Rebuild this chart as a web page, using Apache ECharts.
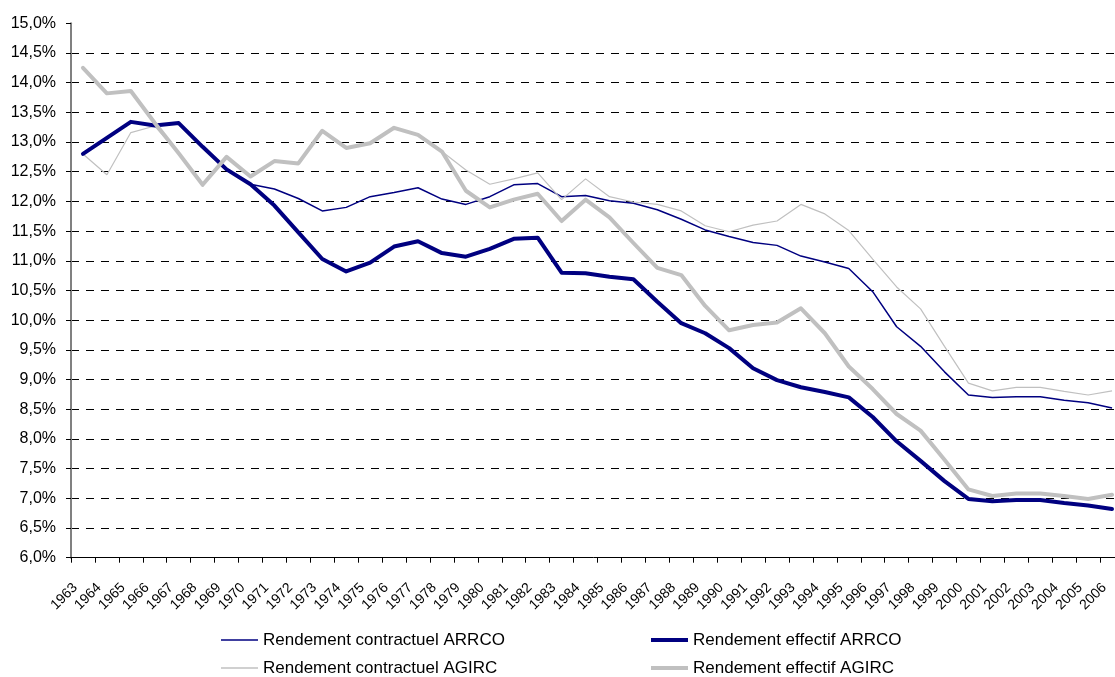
<!DOCTYPE html>
<html>
<head>
<meta charset="utf-8">
<script src="https://cdn.jsdelivr.net/npm/echarts@6/dist/echarts.min.js"></script>
<style>
html,body{margin:0;padding:0;background:#fff;}
#chart{width:1115px;height:677px;}
</style>
</head>
<body>
<div id="chart"></div>
<script>
var years = ['1963','1964','1965','1966','1967','1968','1969','1970','1971','1972','1973','1974','1975','1976','1977',
  '1978','1979','1980','1981','1982','1983','1984','1985','1986','1987','1988','1989','1990','1991',
  '1992','1993','1994','1995','1996','1997','1998','1999','2000','2001','2002','2003','2004','2005','2006'];

var contractuelARRCO = [12.80,13.07,13.34,13.28,13.32,12.92,12.54,12.29,12.21,12.05,11.84,11.90,12.08,12.15,12.23,
  12.04,11.95,12.08,12.28,12.30,12.08,12.10,12.01,11.97,11.86,11.70,11.52,11.41,11.31,
  11.26,11.08,10.98,10.87,10.48,9.89,9.56,9.13,8.74,8.70,8.71,8.71,8.65,8.61,8.52];

var effectifARRCO = [12.80,13.07,13.34,13.28,13.32,12.92,12.54,12.29,11.93,11.48,11.03,10.82,10.97,11.24,11.33,
  11.13,11.07,11.20,11.37,11.39,10.80,10.79,10.73,10.69,10.31,9.95,9.78,9.53,9.19,
  8.99,8.87,8.79,8.70,8.37,7.96,7.63,7.29,6.99,6.95,6.97,6.97,6.92,6.88,6.82];

var contractuelAGIRC = [12.80,12.45,13.16,13.27,12.81,12.28,12.75,12.42,12.68,12.64,13.19,12.90,12.98,13.24,13.12,
  12.84,12.53,12.29,12.38,12.48,12.03,12.38,12.08,11.99,11.95,11.84,11.59,11.49,11.60,
  11.67,11.95,11.79,11.51,11.03,10.56,10.19,9.56,8.94,8.81,8.87,8.87,8.80,8.74,8.81];

var effectifAGIRC = [14.25,13.82,13.86,13.32,12.81,12.28,12.75,12.42,12.68,12.64,13.19,12.90,12.98,13.24,13.12,
  12.84,12.18,11.90,12.03,12.13,11.67,12.03,11.73,11.30,10.88,10.76,10.24,9.83,9.92,
  9.96,10.20,9.78,9.22,8.84,8.42,8.14,7.65,7.15,7.04,7.08,7.08,7.04,6.99,7.06];

var names = ['Rendement contractuel ARRCO','Rendement effectif ARRCO','Rendement contractuel AGIRC','Rendement effectif AGIRC'];

var FONT = "'Liberation Sans', Arial, sans-serif";
var NAVY = '#000080';
var GREY = '#C0C0C0';
var THIN_ICON = 'path://M0,0H37V1.5H0Z';
var THICK_ICON = 'path://M0,0H37V4H0Z';

var gridColors = [];
for (var i = 0; i < 18; i++) gridColors.push('#000');
gridColors.push('rgba(0,0,0,0)');

var legendText = {fontSize: 17, color: '#000', fontFamily: FONT, lineHeight: 18};

var chart = echarts.init(document.getElementById('chart'), null, {renderer: 'canvas'});
chart.setOption({
  animation: false,
  backgroundColor: '#fff',
  textStyle: {fontFamily: FONT},
  grid: {left: 71, right: -9, top: 23.3, bottom: 119.3, containLabel: false, outerBoundsMode: 'none'},
  legend: [
    {
      data: [{name: names[0], icon: THIN_ICON}, {name: names[2], icon: THIN_ICON}],
      orient: 'vertical', left: 221, bottom: 0, padding: [0, 0, 0, 0],
      itemWidth: 37, itemHeight: 18, itemGap: 10,
      textStyle: legendText
    },
    {
      data: [{name: names[1], icon: THICK_ICON}, {name: names[3], icon: THICK_ICON}],
      orient: 'vertical', left: 651, bottom: 0, padding: [0, 0, 0, 0],
      itemWidth: 37, itemHeight: 18, itemGap: 10,
      textStyle: legendText
    }
  ],
  xAxis: {
    type: 'category',
    data: years,
    boundaryGap: true,
    axisLine: {show: true, lineStyle: {color: '#000', width: 1}},
    axisTick: {show: true, length: 5, interval: 0, lineStyle: {color: '#000'}},
    axisLabel: {interval: 0, rotate: 45, fontSize: 14, color: '#000', fontFamily: FONT,
      margin: 20, padding: [0, 11, 0, 0]},
    splitLine: {show: false}
  },
  yAxis: {
    type: 'value',
    min: 6, max: 15, interval: 0.5,
    axisLine: {show: true, lineStyle: {color: '#808080', width: 2}},
    axisTick: {show: true, length: 5, lineStyle: {color: '#000'}},
    axisLabel: {
      fontSize: 16, color: '#000', fontFamily: FONT, margin: 15,
      formatter: function (v) { return v.toFixed(1).replace('.', ',') + '%'; }
    },
    splitLine: {show: true, lineStyle: {color: gridColors, width: 1, type: [8, 7]}}
  },
  series: [
    {name: names[0], type: 'line', data: contractuelARRCO, symbol: 'none', z: 2,
     lineStyle: {color: NAVY, width: 1.5}, itemStyle: {color: NAVY}},
    {name: names[1], type: 'line', data: effectifARRCO, symbol: 'none', z: 3,
     lineStyle: {color: NAVY, width: 4, join: 'round', cap: 'round'}, itemStyle: {color: NAVY}},
    {name: names[2], type: 'line', data: contractuelAGIRC, symbol: 'none', z: 2,
     lineStyle: {color: GREY, width: 1.2}, itemStyle: {color: GREY}},
    {name: names[3], type: 'line', data: effectifAGIRC, symbol: 'none', z: 4,
     lineStyle: {color: GREY, width: 4, join: 'round', cap: 'round'}, itemStyle: {color: GREY}}
  ]
});
</script>
</body>
</html>
